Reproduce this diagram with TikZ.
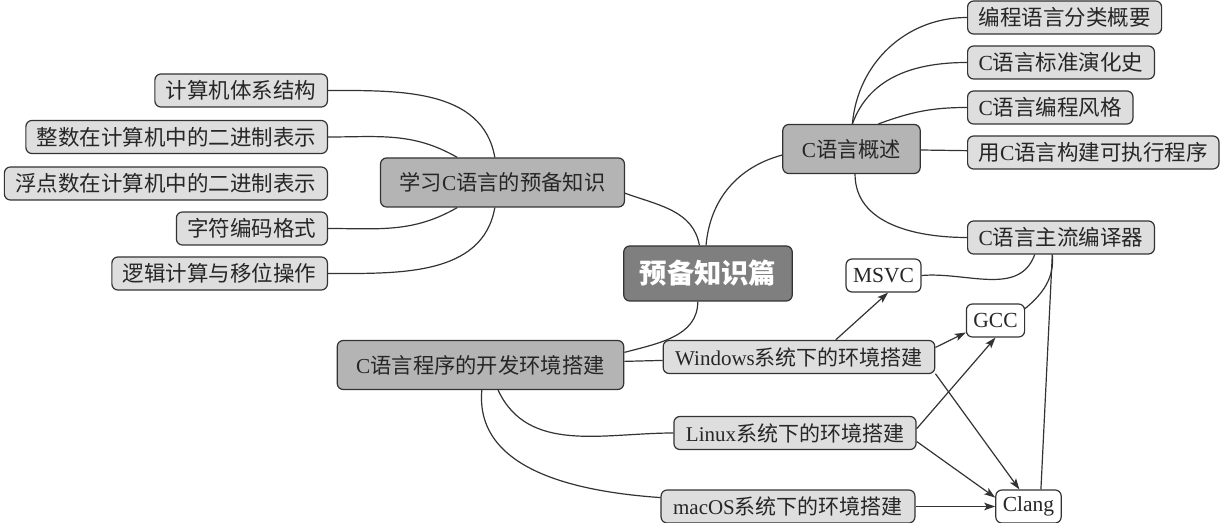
\documentclass[tikz,border=0pt]{standalone}
\usepackage{fontspec}
\setmainfont{Noto Sans CJK SC}
\newfontfamily\latinfont{Liberation Serif}
\newcommand\lat[1]{{\latinfont #1}}
\usetikzlibrary{arrows.meta}
\definecolor{linec}{HTML}{333333}
\definecolor{leaffill}{HTML}{DEDEDE}
\definecolor{topicfill}{HTML}{B4B4B4}
\definecolor{rootfill}{HTML}{7F7F7F}
\definecolor{textc}{HTML}{262626}

\begin{document}
\begin{tikzpicture}[x=1bp,y=1bp,
 box/.style={draw=linec, line width=1.2bp, rounded corners=6bp, text=textc, inner ysep=0bp},
 rootbox/.style={box, fill=rootfill, text=white, minimum height=55bp, inner xsep=16bp, font=\fontsize{27.3bp}{30bp}\selectfont\bfseries},
 topic/.style={box, fill=topicfill, minimum height=49bp, inner xsep=19bp, font=\fontsize{21.3bp}{24bp}\selectfont},
 leaf/.style={box, fill=leaffill, minimum height=33bp, inner xsep=11bp, font=\fontsize{21.5bp}{24bp}\selectfont},
 osleaf/.style={leaf, inner xsep=12bp, font=\fontsize{21bp}{24bp}\selectfont},
 tool/.style={box, fill=white, minimum height=33bp, inner xsep=7bp, font=\fontsize{21.5bp}{24bp}\selectfont\latinfont},
 link/.style={draw=linec, line width=1.2bp},
 arr/.style={link, -{Stealth[length=11bp,width=7.5bp,inset=2.5bp]}}]
\useasboundingbox (0,0) rectangle (1225,-523);

\node[rootbox] (root) at (708,-273.5) {预备知识篇};
\node[topic] (prep) at (502.5,-182.5) {学习\lat{C}语言的预备知识};
\node[topic] (intro) at (851.5,-149) {\lat{C}语言概述};
\node[topic] (env) at (480.5,-365) {\lat{C}语言程序的开发环境搭建};

\node[leaf,anchor=east] (arch) at (328,-90.5) {计算机体系结构};
\node[leaf,anchor=east] (intbin) at (328,-137) {整数在计算机中的二进制表示};
\node[leaf,anchor=east] (fltbin) at (328,-183.5) {浮点数在计算机中的二进制表示};
\node[leaf,anchor=east] (charset) at (328,-228.5) {字符编码格式};
\node[leaf,anchor=east] (bitops) at (328,-273.5) {逻辑计算与移位操作};

\node[leaf,anchor=west] (kinds) at (967,-17.5) {编程语言分类概要};
\node[leaf,anchor=west] (stds) at (967,-62.5) {\lat{C}语言标准演化史};
\node[leaf,anchor=west] (codestyle) at (967,-107.5) {\lat{C}语言编程风格};
\node[leaf,anchor=west] (build) at (967,-152.5) {用\lat{C}语言构建可执行程序};
\node[leaf,anchor=west] (compilers) at (967,-237.5) {\lat{C}语言主流编译器};

\node[tool] (msvc) at (883.5,-275.5) {MSVC};
\node[tool] (gcc) at (995.5,-320.5) {GCC};
\node[tool] (clang) at (1028.5,-506.5) {Clang};

\node[osleaf] (win) at (799,-357) {\lat{Windows}系统下的环境搭建};
\node[osleaf] (linux) at (795,-433) {\lat{Linux}系统下的环境搭建};
\node[osleaf] (mac) at (788,-506.5) {\lat{macOS}系统下的环境搭建};

\draw[link] (arch.east) to[out=0,in=100] (prep.107);
\draw[link] (intbin.east) to[out=0,in=150] (prep.151);
\draw[link] (charset.east) to[out=0,in=210] (prep.209);
\draw[link] (bitops.east) to[out=0,in=260] (prep.253);

\draw[link] (prep.-5) to[out=-20,in=100] (root.107);
\draw[link] (root.94) to[out=85,in=195] (intro.185);
\draw[link] (root.250) to[out=-90,in=15] (env.5);

\draw[link] (intro.88) to[out=85,in=180] (kinds.west);
\draw[link] (intro.88) to[out=70,in=180] (stds.west);
\draw[link] (intro.43) to[out=20,in=180] (codestyle.west);
\draw[link] (intro) -- (build);
\draw[link] (intro.-82) to[out=-90,in=180] (compilers.west);

\draw[link] (compilers.-147) to[out=-110,in=5] (msvc.east);
\draw[link] (compilers.-117) to[out=-85,in=40] (gcc.22);
\draw[link] (compilers.-117) -- (clang.54);

\draw[link] (env) -- (win);
\draw[link] (env.-55) to[out=-65,in=180] (linux.west);
\draw[link] (env.-87) to[out=-95,in=176] (mac.176);

\draw[arr] (win.25) -- (msvc.-75);
\draw[arr] (win.4) -- (gcc.202);
\draw[arr] (win.-7) -- (clang.118);
\draw[arr] (linux.2) -- (gcc.south);
\draw[arr] (linux.-4) -- (clang.165);
\draw[arr] (mac.east) -- (clang.west);
\end{tikzpicture}
\end{document}
